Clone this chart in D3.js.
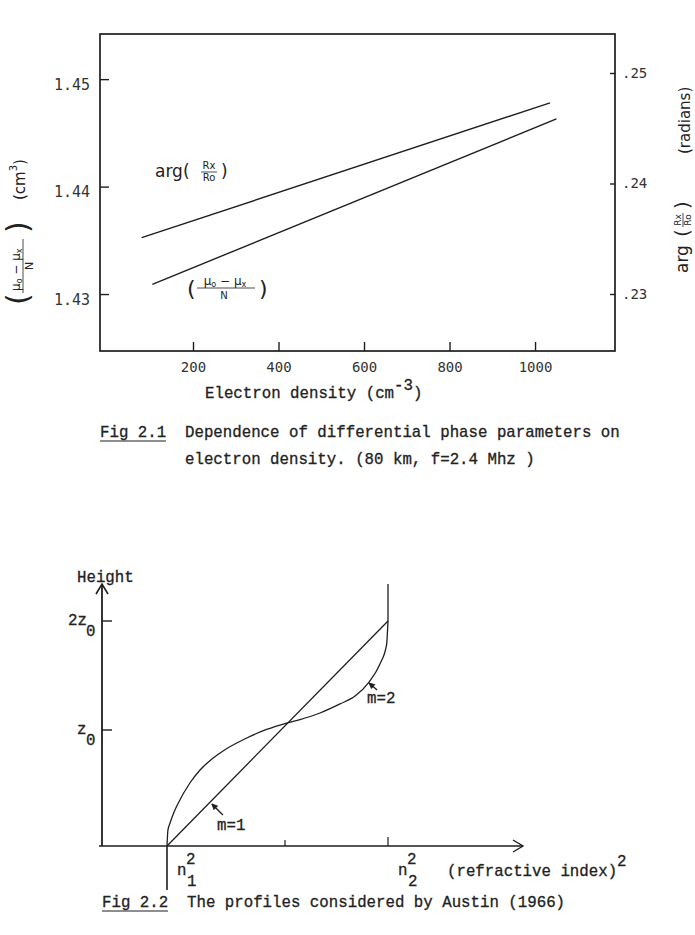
<!DOCTYPE html>
<html>
<head>
<meta charset="utf-8">
<script src="https://cdn.jsdelivr.net/npm/d3@7"></script>
<style>
  html, body { margin: 0; padding: 0; background: #fff; }
  svg { display: block; }
  .tw { font-family: "Liberation Mono", "Courier New", monospace; font-size: 15.75px; fill: #222; stroke: #222; stroke-width: 0.3px; }
  .lt { font-family: "DejaVu Sans Mono", monospace; fill: #333; }
  .hand { font-family: "DejaVu Sans", sans-serif; fill: #222; }
</style>
</head>
<body>
<div id="chart"></div>
<script>
// ---- Fig 2.1 data ----
const densityTicks = [200, 400, 600, 800, 1000];
const muTicks = [1.43, 1.44, 1.45];
const argTicks = [0.23, 0.24, 0.25];
const argDensity = [80, 1035];
const argValues = [0.2351, 0.2473];
const muDensity = [105, 1050];
const muValues = [1.4309, 1.4463];

// ---- Fig 2.2 data (n^2: n1^2 -> 0, n2^2 -> 1 ; height in units of z0) ----
const profileTicks = [0, 0.5, 1];
const heightTicks = [1, 2];
const linearN = [0, 1];
const linearH = [0, 2];
const cubicN = [0, 0.004, 0.013, 0.030, 0.048, 0.097, 0.140, 0.225, 0.338, 0.422, 0.508, 0.573, 0.670, 0.767, 0.840, 0.908, 0.961, 0.993, 1];
const cubicH = [0, 0.138, 0.198, 0.293, 0.371, 0.543, 0.655, 0.802, 0.931, 1.005, 1.064, 1.096, 1.156, 1.239, 1.312, 1.440, 1.606, 1.780, 2];
const aboveN = [1, 1];
const aboveH = [2, 2.34];

const W = 695, H = 935;
const ink = '#1e1e1e';

const svg = d3.select('#chart').append('svg')
  .attr('width', W)
  .attr('height', H);
svg.append('rect').attr('width', W).attr('height', H).attr('fill', '#fff');

// ================= Fig 2.1 =================
const f1 = { left: 100, right: 615, top: 34, bottom: 351 };
const x1 = d3.scaleLinear().domain([-17.5, 1187]).range([f1.left, f1.right]);
const yMu = d3.scaleLinear().domain([1.4247, 1.4542]).range([f1.bottom, f1.top]);
const yArg = d3.scaleLinear().domain([0.22484, 0.25353]).range([f1.bottom, f1.top]);

svg.append('rect')
  .attr('x', f1.left).attr('y', f1.top)
  .attr('width', f1.right - f1.left).attr('height', f1.bottom - f1.top)
  .attr('fill', 'none').attr('stroke', ink).attr('stroke-width', 1.7);

const gx = svg.append('g')
  .attr('transform', `translate(0,${f1.bottom})`)
  .call(d3.axisBottom(x1).tickValues(densityTicks).tickSizeInner(-9).tickSizeOuter(0).tickPadding(11).tickFormat(d3.format('d')));

const gl = svg.append('g')
  .attr('transform', `translate(${f1.left},0)`)
  .call(d3.axisLeft(yMu).tickValues(muTicks).tickSizeInner(-9).tickSizeOuter(0).tickPadding(10).tickFormat(d3.format('.2f')));

const gr = svg.append('g')
  .attr('transform', `translate(${f1.right},0)`)
  .call(d3.axisRight(yArg).tickValues(argTicks).tickSizeInner(-5).tickSizeOuter(0).tickPadding(7)
    .tickFormat(d => d3.format('.2f')(d).replace(/^0/, '')));

[gx, gl, gr].forEach(g => {
  g.select('.domain').remove();
  g.selectAll('.tick line').attr('stroke', ink).attr('stroke-width', 1.4);
  g.selectAll('.tick text').attr('class', 'lt').attr('fill', '#333');
});
gx.selectAll('.tick text').attr('font-size', 14);
gl.selectAll('.tick text').attr('font-size', 15).attr('dy', '0.68em');
gr.selectAll('.tick text').attr('font-size', 14);

const lineArg = d3.line().x(d => x1(d[0])).y(d => yArg(d[1]));
const lineMu = d3.line().x(d => x1(d[0])).y(d => yMu(d[1]));

svg.append('path')
  .datum(d3.zip(argDensity, argValues))
  .attr('d', lineArg)
  .attr('fill', 'none').attr('stroke', ink).attr('stroke-width', 1.4);

svg.append('path')
  .datum(d3.zip(muDensity, muValues))
  .attr('d', lineMu)
  .attr('fill', 'none').attr('stroke', ink).attr('stroke-width', 1.4);

// in-plot labels
const argLab = svg.append('g').attr('transform', 'translate(155,177)');
argLab.append('text').attr('class', 'hand').attr('font-size', 17).text('arg(');
argLab.append('text').attr('class', 'hand').attr('font-size', 10).attr('x', 54).attr('y', -8).attr('text-anchor', 'middle').text('Rx');
argLab.append('line').attr('x1', 46).attr('x2', 62).attr('y1', -5).attr('y2', -5).attr('stroke', ink).attr('stroke-width', 0.8);
argLab.append('text').attr('class', 'hand').attr('font-size', 10).attr('x', 54).attr('y', 4).attr('text-anchor', 'middle').text('Ro');
argLab.append('text').attr('class', 'hand').attr('font-size', 17).attr('x', 66).text(')');

const muLab = svg.append('g').attr('transform', 'translate(187,292)');
muLab.append('text').attr('class', 'hand').attr('font-size', 22).attr('y', 4).text('(');
const muNum = muLab.append('text').attr('class', 'hand').attr('font-size', 12).attr('x', 38).attr('y', -7).attr('text-anchor', 'middle');
muNum.append('tspan').text('μ');
muNum.append('tspan').attr('font-size', 8).attr('dy', 2).text('o');
muNum.append('tspan').attr('dy', -2).text(' − μ');
muNum.append('tspan').attr('font-size', 8).attr('dy', 2).text('x');
muLab.append('line').attr('x1', 10).attr('x2', 68).attr('y1', -4).attr('y2', -4).attr('stroke', ink).attr('stroke-width', 0.8);
muLab.append('text').attr('class', 'hand').attr('font-size', 10).attr('x', 37).attr('y', 7).attr('text-anchor', 'middle').text('N');
muLab.append('text').attr('class', 'hand').attr('font-size', 22).attr('x', 72).attr('y', 4).text(')');

// left rotated axis label
const leftLab = svg.append('g').attr('transform', 'translate(30,225) rotate(-90)');
leftLab.append('text').attr('class', 'hand').attr('font-size', 30).attr('x', -80).attr('y', -2).text('(');
const lNum = leftLab.append('text').attr('class', 'hand').attr('font-size', 12).attr('x', -66).attr('y', -10);
lNum.append('tspan').text('μ');
lNum.append('tspan').attr('font-size', 8).attr('dy', 2).text('o');
lNum.append('tspan').attr('dy', -2).text(' − μ');
lNum.append('tspan').attr('font-size', 8).attr('dy', 2).text('x');
leftLab.append('line').attr('x1', -68).attr('x2', -14).attr('y1', -7).attr('y2', -7).attr('stroke', ink).attr('stroke-width', 0.8);
leftLab.append('text').attr('class', 'hand').attr('font-size', 11).attr('x', -41).attr('y', 3).attr('text-anchor', 'middle').text('N');
leftLab.append('text').attr('class', 'hand').attr('font-size', 30).attr('x', -8).attr('y', -2).text(')');
const cm = leftLab.append('text').attr('class', 'hand').attr('font-size', 15).attr('x', 25).attr('y', -5);
cm.append('tspan').text('(cm');
cm.append('tspan').attr('font-size', 10).attr('dy', -8).text('3');
cm.append('tspan').attr('dy', 8).text(')');

// right rotated axis label
const rightLab = svg.append('g').attr('transform', 'translate(688,180) rotate(-90)');
rightLab.append('text').attr('class', 'hand').attr('font-size', 17).attr('x', -93).attr('y', 0).text('arg');
rightLab.append('text').attr('class', 'hand').attr('font-size', 20).attr('x', -57).attr('y', 1).text('(');
rightLab.append('text').attr('class', 'hand').attr('font-size', 9).attr('x', -40).attr('y', -7).attr('text-anchor', 'middle').text('Rx');
rightLab.append('line').attr('x1', -47).attr('x2', -33).attr('y1', -5).attr('y2', -5).attr('stroke', ink).attr('stroke-width', 0.8);
rightLab.append('text').attr('class', 'hand').attr('font-size', 9).attr('x', -40).attr('y', 3).attr('text-anchor', 'middle').text('Ro');
rightLab.append('text').attr('class', 'hand').attr('font-size', 20).attr('x', -29).attr('y', 1).text(')');
rightLab.append('text').attr('class', 'hand').attr('font-size', 15).attr('x', 26).attr('y', 2).text('(radians)');

// x label and caption
const xl = svg.append('text').attr('class', 'tw').attr('x', 205).attr('y', 398);
xl.append('tspan').text('Electron density (cm');
xl.append('tspan').attr('dy', -8).text('-3');
xl.append('tspan').attr('dy', 8).text(')');

svg.append('text').attr('class', 'tw').attr('x', 100).attr('y', 437).text('Fig 2.1');
svg.append('line').attr('x1', 100).attr('x2', 166).attr('y1', 441).attr('y2', 441).attr('stroke', ink).attr('stroke-width', 1.2);
svg.append('text').attr('class', 'tw').attr('x', 185).attr('y', 437).text('Dependence of differential phase parameters on');
svg.append('text').attr('class', 'tw').attr('x', 185).attr('y', 464).text('electron density. (80 km, f=2.4 Mhz )');

// ================= Fig 2.2 =================
const ax = { x0: 102, y0: 846, xEnd: 523, yEnd: 584 };
const x2 = d3.scaleLinear().domain(profileTicks).range([167, 285, 388]);
const y2 = d3.scaleLinear().domain([0, 1, 2]).range([846, 730, 621]);

// axes with open arrow heads
svg.append('line').attr('x1', ax.x0).attr('x2', ax.x0).attr('y1', ax.y0).attr('y2', ax.yEnd)
  .attr('stroke', ink).attr('stroke-width', 1.8);
svg.append('path').attr('d', `M${ax.x0 - 6},${ax.yEnd + 10}L${ax.x0},${ax.yEnd}L${ax.x0 + 6},${ax.yEnd + 10}`)
  .attr('fill', 'none').attr('stroke', ink).attr('stroke-width', 1.6);
svg.append('line').attr('x1', ax.x0 - 3).attr('x2', ax.xEnd).attr('y1', ax.y0).attr('y2', ax.y0)
  .attr('stroke', ink).attr('stroke-width', 1.6);
svg.append('path').attr('d', `M${ax.xEnd - 10},${ax.y0 - 6}L${ax.xEnd},${ax.y0}L${ax.xEnd - 10},${ax.y0 + 6}`)
  .attr('fill', 'none').attr('stroke', ink).attr('stroke-width', 1.4);

// n1^2 marker line below axis
svg.append('line').attr('x1', x2(0)).attr('x2', x2(0)).attr('y1', ax.y0).attr('y2', 890)
  .attr('stroke', ink).attr('stroke-width', 1.6);

// ticks
svg.selectAll('.htick').data(heightTicks).enter().append('line')
  .attr('x1', ax.x0).attr('x2', ax.x0 + 10)
  .attr('y1', d => y2(d)).attr('y2', d => y2(d))
  .attr('stroke', ink).attr('stroke-width', 1.4);
svg.selectAll('.ntick').data(profileTicks.slice(1)).enter().append('line')
  .attr('x1', d => x2(d)).attr('x2', d => x2(d))
  .attr('y1', ax.y0).attr('y2', d => ax.y0 - (d === 1 ? 9 : 6))
  .attr('stroke', ink).attr('stroke-width', 1.2);

// profiles
const line2 = d3.line().x(d => x2(d[0])).y(d => y2(d[1]));
const line2c = d3.line().x(d => x2(d[0])).y(d => y2(d[1])).curve(d3.curveMonotoneX);

svg.append('path').datum(d3.zip(linearN, linearH)).attr('d', line2)
  .attr('fill', 'none').attr('stroke', ink).attr('stroke-width', 1.3);
svg.append('path').datum(d3.zip(cubicN, cubicH)).attr('d', line2c)
  .attr('fill', 'none').attr('stroke', ink).attr('stroke-width', 1.3);
svg.append('path').datum(d3.zip(aboveN, aboveH)).attr('d', line2)
  .attr('fill', 'none').attr('stroke', ink).attr('stroke-width', 1.3);

// m labels with small arrows
const mNotes = [
  { label: 'm=1', tip: [0.186, 0.371], tail: [0.237, 0.267], at: [0.212, 0.138] },
  { label: 'm=2', tip: [0.903, 1.440], tail: [0.947, 1.367], at: [0.898, 1.248] }
];
mNotes.forEach(m => {
  const tx = x2(m.tip[0]) + 1, ty = y2(m.tip[1]) + 1;
  const sx = x2(m.tail[0]), sy = y2(m.tail[1]);
  svg.append('line').attr('x1', sx).attr('y1', sy).attr('x2', tx).attr('y2', ty)
    .attr('stroke', ink).attr('stroke-width', 1.3);
  const a = Math.atan2(ty - sy, tx - sx);
  const h1 = [tx - 6 * Math.cos(a - 0.45), ty - 6 * Math.sin(a - 0.45)];
  const h2 = [tx - 6 * Math.cos(a + 0.45), ty - 6 * Math.sin(a + 0.45)];
  svg.append('path').attr('d', `M${h1}L${tx},${ty}L${h2}Z`).attr('fill', ink).attr('stroke', ink).attr('stroke-width', 0.8);
  svg.append('text').attr('class', 'tw').attr('x', x2(m.at[0])).attr('y', y2(m.at[1])).text(m.label);
});

// axis texts
svg.append('text').attr('class', 'tw').attr('x', 77).attr('y', 582).text('Height');
svg.append('text').attr('class', 'tw').attr('x', 68).attr('y', y2(2) + 4).text('2z');
svg.append('text').attr('class', 'tw').attr('x', 86).attr('y', y2(2) + 15).text('0');
svg.append('text').attr('class', 'tw').attr('x', 77).attr('y', y2(1) + 4).text('z');
svg.append('text').attr('class', 'tw').attr('x', 86).attr('y', y2(1) + 15).text('0');

[[0, '1'], [1, '2']].forEach(([v, sub]) => {
  const px = x2(v);
  svg.append('text').attr('class', 'tw').attr('x', px + 10).attr('y', 875).text('n');
  svg.append('text').attr('class', 'tw').attr('x', px + 19).attr('y', 864).text('2');
  svg.append('text').attr('class', 'tw').attr('x', px + 20).attr('y', 886).text(sub);
});
svg.append('text').attr('class', 'tw').attr('x', 447).attr('y', 876).text('(refractive index)');
svg.append('text').attr('class', 'tw').attr('x', 617).attr('y', 866).text('2');

svg.append('text').attr('class', 'tw').attr('x', 102).attr('y', 907).text('Fig 2.2');
svg.append('line').attr('x1', 102).attr('x2', 168).attr('y1', 911).attr('y2', 911).attr('stroke', ink).attr('stroke-width', 1.2);
svg.append('text').attr('class', 'tw').attr('x', 187).attr('y', 907).text('The profiles considered by Austin (1966)');
</script>
</body>
</html>
